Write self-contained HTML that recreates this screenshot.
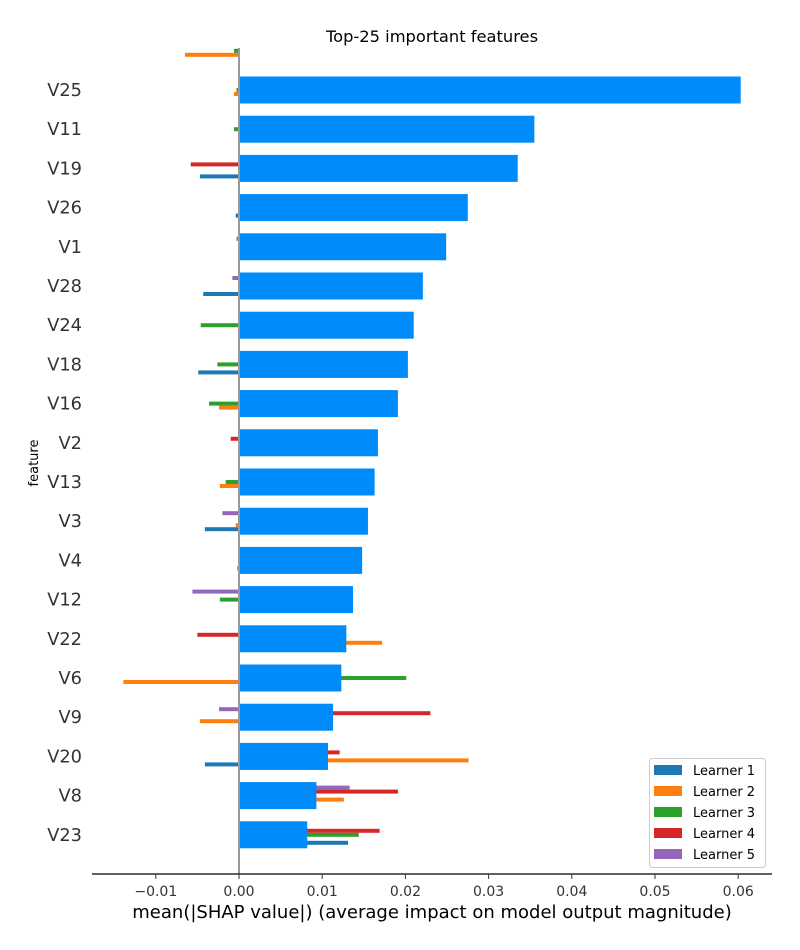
<!DOCTYPE html>
<html><head><meta charset="utf-8"><style>
html,body{margin:0;padding:0;background:#fff;}
svg{display:block;font-family:"DejaVu Sans","Liberation Sans",sans-serif;}
</style></head><body>
<svg id="chart" width="800" height="950" viewBox="0 0 800 950" xmlns="http://www.w3.org/2000/svg">
<defs><clipPath id="plotclip"><rect x="92" y="48" width="680" height="826"/></clipPath></defs>
<text x="432" y="42" font-size="16.3" text-anchor="middle" fill="#000">Top-25 important features</text>
<g id="plot" clip-path="url(#plotclip)"></g>
<g id="axes"></g>
<text x="38" y="463" font-size="13" text-anchor="middle" transform="rotate(-90 38 463)" fill="#000">feature</text>
<text x="432" y="918" font-size="18" text-anchor="middle" fill="#000">mean(|SHAP value|) (average impact on model output magnitude)</text>
<g id="legend"></g>
</svg>
<script>
const features = ["", "V25","V11","V19","V26","V1","V28","V24","V18","V16","V2","V13","V3","V4","V12","V22","V6","V9","V20","V8","V23"];
const meanValues = [0, 0.0603,0.0355,0.0335,0.0275,0.0249,0.0221,0.0210,0.0203,0.0191,0.0167,0.0163,0.0155,0.0148,0.0137,0.0129,0.0123,0.0113,0.0107,0.0093,0.0082];
const learner1 = [0, 0,0,-0.0047,-0.0004,0,-0.0043,0,-0.0049,0,0,0,-0.0041,-0.0002,0,0,0,0,-0.0041,0,0.0131];
const learner2 = [-0.0065, -0.0006,0,0,0,0,0,0,0,-0.0024,0,-0.0023,-0.0004,0,0,0.0172,-0.0139,-0.0047,0.0276,0.0126,0];
const learner3 = [-0.0006, -0.0003,-0.0006,0,0,0,0,-0.0046,-0.0026,-0.0036,0,-0.0016,0,0,-0.0023,0,0.0201,0,0,0,0.0144];
const learner4 = [0, 0,0,-0.0058,0,0,0,0,0,0,-0.0010,0,0,0,0,-0.0050,0,0.0230,0.0121,0.0191,0.0169];
const learner5 = [0, 0,0,0,0,-0.0003,-0.0008,0,0,0,0,0,-0.0020,0,-0.0056,0,0,-0.0024,0,0.0133,0];
const xTicks = [-0.01,0,0.01,0.02,0.03,0.04,0.05,0.06];
const xTickLabels = ["\u22120.01","0.00","0.01","0.02","0.03","0.04","0.05","0.06"];
const learnerNames = ["Learner 1","Learner 2","Learner 3","Learner 4","Learner 5"];

const NS="http://www.w3.org/2000/svg";
const learners=[learner1,learner2,learner3,learner4,learner5];
const colors=["#1f77b4","#ff7f0e","#2ca02c","#d62728","#9467bd"];
const offsets=[8,4,0,-4,-8];
function x(v){return 239+v*8320;}
function y(i){return 50.8+i*39.2;}
function mk(tag,attrs,parent){const e=document.createElementNS(NS,tag);for(const k in attrs)e.setAttribute(k,attrs[k]);parent.appendChild(e);return e;}
const plot=document.getElementById('plot'), axes=document.getElementById('axes'), legend=document.getElementById('legend');
features.forEach((f,i)=>{
  learners.forEach((arr,li)=>{
    const v=arr[i]; if(!v)return;
    const r=mk('rect',{x:Math.min(x(0),x(v)),y:y(i)+offsets[li]-2,width:Math.abs(x(v)-x(0)),height:4,fill:colors[li]},plot);
    
    
  });
});
features.forEach((f,i)=>{
  if(meanValues[i]>0){
    const r=mk('rect',{x:x(0),y:y(i)-13.5,width:x(meanValues[i])-x(0),height:27,fill:"#008bfb"},plot);
    
    
  }
  if(f){
    const t=mk('text',{x:82,y:y(i)+6,'font-size':17.8,'text-anchor':'end',fill:'#333'},axes);
    t.textContent=f;
    
    
  }
});
const zl=mk('line',{x1:x(0),x2:x(0),y1:48,y2:874,stroke:'#999','stroke-width':2},axes);


const xa=mk('line',{x1:92,x2:772,y1:874,y2:874,stroke:'#000','stroke-width':1.2},axes);


xTicks.forEach((v,i)=>{
  const tk=mk('line',{x1:x(v),x2:x(v),y1:874,y2:879,stroke:'#333','stroke-width':1},axes);
  
  
  const t=mk('text',{x:x(v),y:896,'font-size':14,'text-anchor':'middle',fill:'#333'},axes);
  t.textContent=xTickLabels[i];
  
  
});
const box=mk('rect',{x:649.5,y:758.5,width:116,height:109,rx:3,fill:'#fff',stroke:'#ccc','stroke-width':1},legend);


learnerNames.forEach((n,i)=>{
  const g=mk('g',{},legend);
  
  
  mk('rect',{x:654,y:765+i*21,width:28,height:10,fill:colors[i]},g);
  const t=mk('text',{x:693,y:775+i*21,'font-size':13,fill:'#000'},g);
  t.textContent=n;
});
</script>
</body></html>
